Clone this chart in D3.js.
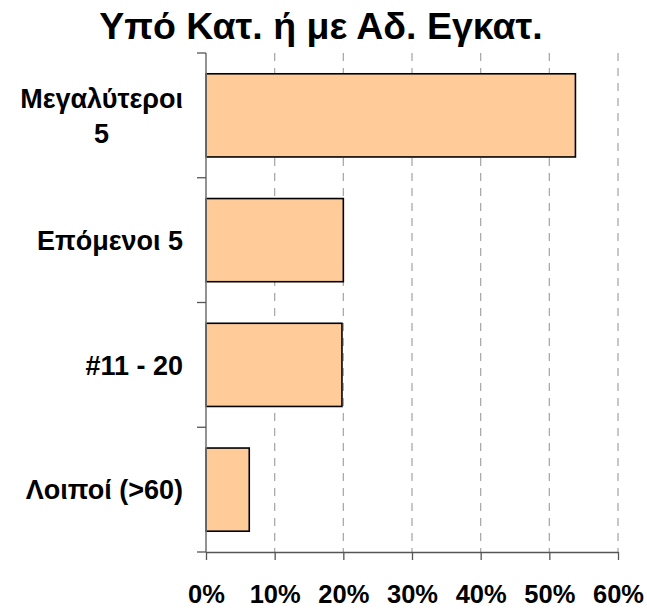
<!DOCTYPE html>
<html>
<head>
<meta charset="utf-8">
<script src="https://cdn.jsdelivr.net/npm/d3@7"></script>
<style>
  body { margin: 0; background: #fff; }
  svg { display: block; font-family: Arial, "Liberation Sans", sans-serif; }
</style>
</head>
<body>
<svg width="647" height="609"></svg>
<script>
var categories = ["Μεγαλύτεροι\n5", "Επόμενοι 5", "#11 - 20", "Λοιποί (>60)"];
var values = [0.538, 0.20, 0.198, 0.063];
var tickValues = [0, 0.1, 0.2, 0.3, 0.4, 0.5, 0.6];
var title = "Υπό Κατ. ή με Αδ. Εγκατ.";

var svg = d3.select("svg");

var x = d3.scaleLinear().domain([0, 0.6]).range([206, 618]);
var y = d3.scaleBand().domain(categories).range([53, 552])
    .paddingInner(1 / 3).paddingOuter(1 / 6);

// title
svg.append("text")
    .attr("x", 321)
    .attr("y", 39)
    .attr("text-anchor", "middle")
    .style("font-size", "37.5px")
    .style("font-weight", "bold")
    .text(title);

// dashed gridlines
svg.append("g")
  .selectAll("line")
  .data(tickValues.slice(1))
  .enter().append("line")
    .attr("x1", d => x(d)).attr("x2", d => x(d))
    .attr("y1", 53).attr("y2", 552)
    .attr("stroke", "#aaa")
    .attr("stroke-width", 1.3)
    .attr("stroke-dasharray", "8,7");

// bars
svg.append("g")
  .selectAll("rect")
  .data(categories)
  .enter().append("rect")
    .attr("x", x(0))
    .attr("y", d => y(d))
    .attr("width", (d, i) => x(values[i]) - x(0))
    .attr("height", y.bandwidth())
    .attr("fill", "#FFCC99")
    .attr("stroke", "#000")
    .attr("stroke-width", 1.6);

// x axis
var xAxis = svg.append("g")
    .attr("transform", "translate(0,552)")
    .call(d3.axisBottom(x).tickValues(tickValues).tickFormat(d3.format(".0%")).tickSize(8).tickSizeOuter(0));
xAxis.select(".domain").attr("stroke", "#555").attr("stroke-width", 1.3);
xAxis.selectAll(".tick line").attr("stroke", "#555").attr("stroke-width", 1.3);
xAxis.selectAll(".tick text")
    .attr("y", 51).attr("dy", 0)
    .attr("fill", "#000")
    .style("font-size", "25.5px")
    .style("font-weight", "bold")
    .style("font-family", "Arial, 'Liberation Sans', sans-serif");

// y axis line and boundary ticks
var step = y.step();
var bounds = d3.range(categories.length + 1).map(i => 53 + i * step);
svg.append("line")
    .attr("x1", x(0)).attr("x2", x(0))
    .attr("y1", 53).attr("y2", 552)
    .attr("stroke", "#777").attr("stroke-width", 1.6);
svg.append("g")
  .selectAll("line")
  .data(bounds)
  .enter().append("line")
    .attr("x1", x(0) - 9).attr("x2", x(0))
    .attr("y1", d => d).attr("y2", d => d)
    .attr("stroke", "#555").attr("stroke-width", 1.3);

// category labels
var labelRight = 183;
var lineGap = 35;
categories.forEach(function(c) {
  var lines = c.split("\n");
  var g = svg.append("g");
  var texts = g.selectAll("text").data(lines).enter().append("text")
      .style("font-size", "27px")
      .style("font-weight", "bold")
      .attr("text-anchor", "middle")
      .text(d => d);
  var maxW = 0;
  texts.each(function() { maxW = Math.max(maxW, this.getComputedTextLength()); });
  var cy = y(c) + y.bandwidth() / 2;
  var top = cy - (lines.length - 1) * lineGap / 2;
  texts.attr("x", labelRight - maxW / 2)
       .attr("y", (d, i) => top + i * lineGap)
       .attr("dy", "0.36em");
});
</script>
</body>
</html>
